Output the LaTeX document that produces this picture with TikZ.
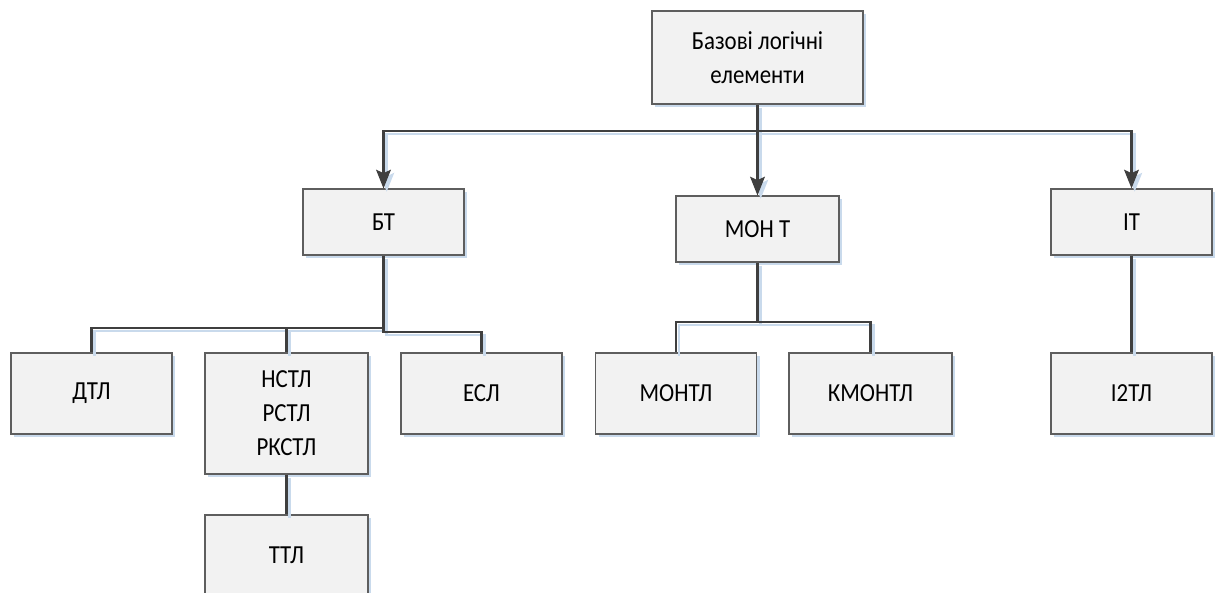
\documentclass[tikz,border=0pt]{standalone}
\usepackage{fontspec}
\setmainfont{Carlito}[FakeStretch=0.88]
\usepackage{tikz}
\usetikzlibrary{shapes,positioning,shadows,arrows.meta}
\definecolor{boxfill}{HTML}{F2F2F2}
\definecolor{boxline}{HTML}{5E5E5E}
\definecolor{wirecol}{HTML}{3F3F3F}
\definecolor{shadowblue}{HTML}{C9DAEC}
\begin{document}
\begin{tikzpicture}[x=0.75pt,y=-0.75pt,
  every node/.append style={font=\fontsize{19.5pt}{25.5pt}\selectfont},
  wire/.style={draw=wirecol,line width=1.9pt,
    preaction={draw=shadowblue,line width=1.9pt,transform canvas={xshift=2.4pt,yshift=-2.4pt}}},
  tip/.style={-{Stealth[length=14pt,width=11pt,inset=2.5pt]}}]
  \tikzstyle{block} = [rectangle,draw=boxline,line width=0.8pt,fill=boxfill,inner sep=0pt,align=center,
    minimum width=120.75pt,minimum height=60.75pt,
    drop shadow={shadow xshift=2.6pt,shadow yshift=-2.6pt,fill=shadowblue,opacity=1}]
  \tikzstyle{small} = [minimum height=49.5pt]
  \useasboundingbox (0,0) rectangle (1216,592);
  \node (1_1) [block,minimum width=158.25pt,minimum height=69.75pt] at (757.5,57.5) {Базові логічні\\елементи};
  \node (1_2) [block,small] at (383.5,222) {БТ};
  \node (1_3) [block,small,minimum width=122.25pt] at (757.5,229) {МОН Т};
  \node (1_4) [block,small] at (1131.5,222) {ІТ};
  \node (1_5) [block] at (91.5,393.5) {ДТЛ};
  \node (1_6) [block,minimum width=122.25pt,minimum height=90.75pt] at (286.5,413.5) {НСТЛ\\РСТЛ\\РКСТЛ};
  \node (1_7) [block] at (481.5,393.5) {ЕСЛ};
  \node (1_8) [block,minimum width=122.25pt] at (286.5,555.5) {ТТЛ};
  \node (1_10) [block] at (676,393.5) {МОНТЛ};
  \node (1_11) [block,minimum width=122.25pt] at (870.5,393.5) {КМОНТЛ};
  \node (1_12) [block] at (1131.5,393.5) {І2ТЛ};
  \coordinate (bus_1) at (757.5,131);
  \coordinate (bus_2) at (383.5,328);
  \coordinate (bus_2r) at (383.5,332);
  \coordinate (bus_3) at (757.5,322);
  \path[wire] (1_1.south) -- (bus_1);
  \path[wire,tip] (bus_1) -| (1_2.north);
  \path[wire,tip] (bus_1) -- (1_3.north);
  \path[wire,tip] (bus_1) -| (1_4.north);
  \path[wire] (1_2.south) -- (bus_2) -| (1_5.north);
  \path[wire] (bus_2) -| (1_6.north);
  \path[wire] (bus_2) -- (bus_2r) -| (1_7.north);
  \path[wire] (1_6.south) -- (1_8.north);
  \path[wire] (1_3.south) -- (bus_3) -| (1_10.north);
  \path[wire] (bus_3) -| (1_11.north);
  \path[wire] (1_4.south) -- (1_12.north);
\end{tikzpicture}
\end{document}
